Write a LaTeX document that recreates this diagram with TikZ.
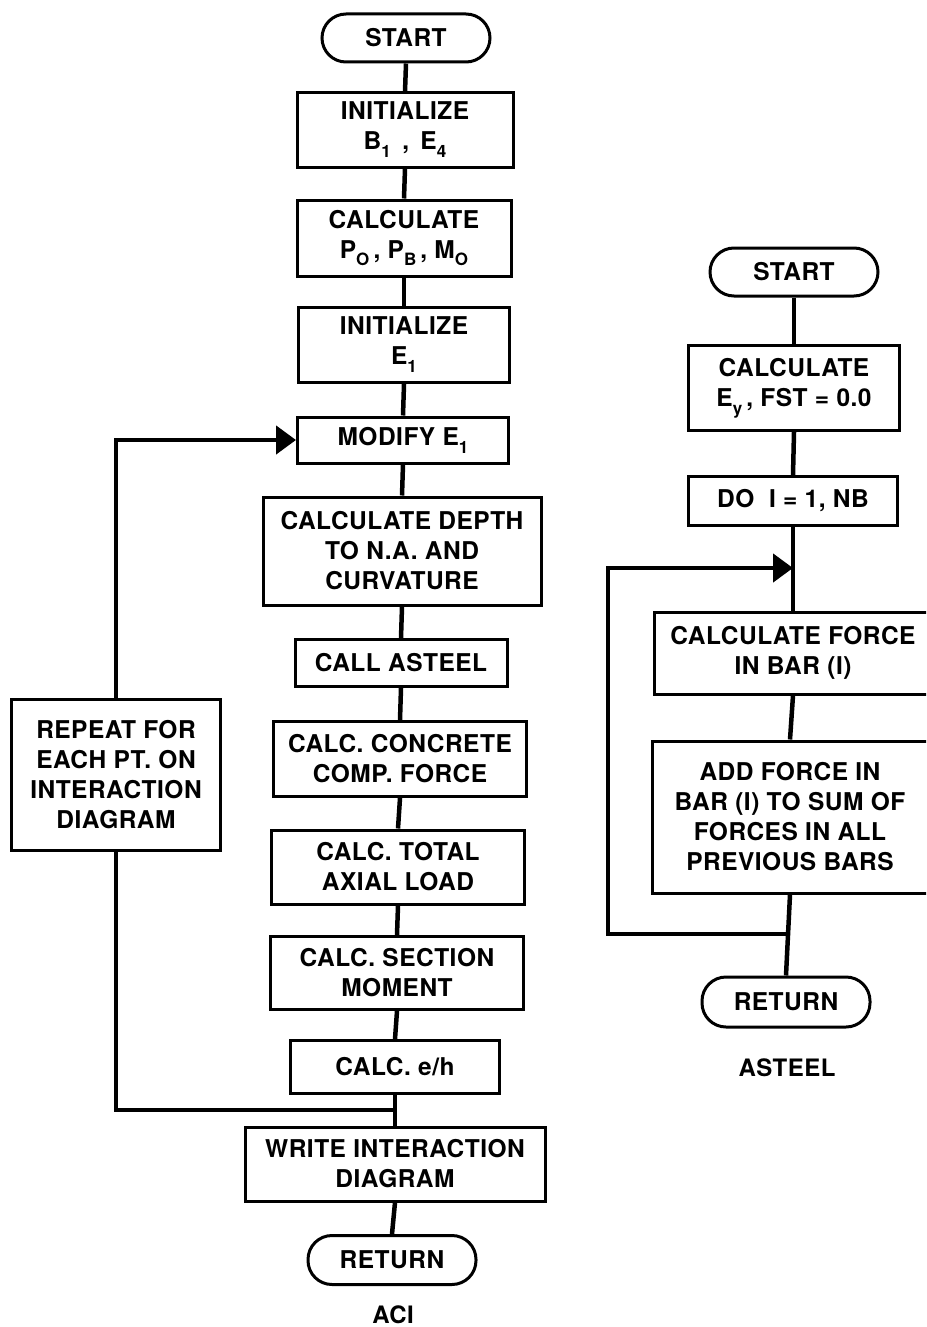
\documentclass[tikz,border=0pt]{standalone}
\usepackage{fontspec}
\setmainfont{TeX Gyre Heros}[LetterSpace=2]
\usetikzlibrary{arrows.meta,calc}
\newcommand\sbx[1]{\raisebox{-0.6ex}{\fontsize{17}{17}\selectfont #1}}
\tikzset{
  every node/.style={font=\fontsize{24.5}{30}\selectfont\bfseries},
  box/.style={draw, line width=3pt, rectangle, align=center, inner sep=0pt},
  term/.style={draw, line width=3pt, rectangle, rounded corners=24pt, align=center, minimum width=168pt, minimum height=48pt, inner sep=0pt},
  link/.style={line width=4.5pt},
  looparrow/.style={line width=4.5pt, -{Triangle[length=20pt,width=28pt]}},
  caption/.style={font=\fontsize{24}{28}\selectfont\bfseries}
}
\begin{document}
\begin{tikzpicture}[x=1pt,y=-1pt]
\useasboundingbox (0,0) rectangle (926,1327);
\clip (0,0) rectangle (926,1327);
% left flowchart (ACI)
\node[term] (s1) at (406,38) {START};
\node[box, minimum width=216pt, minimum height=74pt] (b1) at (405,130) {INITIALIZE\\B\sbx{1} \,,\, E\sbx{4}};
\node[box, minimum width=214pt, minimum height=76pt] (b2) at (404,238) {CALCULATE\\P\sbx{O}\,, P\sbx{B}\,, M\sbx{O}};
\node[box, minimum width=211pt, minimum height=75pt] (b3) at (404,345) {INITIALIZE\\E\sbx{1}};
\node[box, minimum width=211pt, minimum height=46pt] (b4) at (403,440) {MODIFY E\sbx{1}};
\node[box, minimum width=278pt, minimum height=108pt] (b5) at (402,551) {CALCULATE DEPTH\\TO N.A. AND\\CURVATURE};
\node[box, minimum width=212pt, minimum height=47pt] (b6) at (401,663) {CALL ASTEEL};
\node[box, minimum width=253pt, minimum height=75pt] (b7) at (400,759) {CALC. CONCRETE\\COMP. FORCE};
\node[box, minimum width=253pt, minimum height=74pt] (b8) at (398,867) {CALC. TOTAL\\AXIAL LOAD};
\node[box, minimum width=253pt, minimum height=73pt] (b9) at (397,973) {CALC. SECTION\\MOMENT};
\node[box, minimum width=209pt, minimum height=53pt] (b10) at (395,1067) {CALC. e/h};
\node[box, minimum width=300pt, minimum height=74pt] (b11) at (395,1164) {WRITE INTERACTION\\DIAGRAM};
\node[term, minimum height=49pt] (r1) at (392,1260) {RETURN};
\node[caption] (aci) at (393,1315) {ACI};
\node[box, minimum width=209pt, minimum height=151pt] (rep) at (116,775) {REPEAT FOR\\EACH PT. ON\\INTERACTION\\DIAGRAM};
\draw[link] (s1.south) -- (b1.north);
\draw[link] (b1.south) -- (b2.north);
\draw[link] (b2.south) -- (b3.north);
\draw[link] (b3.south) -- (b4.north);
\draw[link] (b4.south) -- (b5.north);
\draw[link] (b5.south) -- (b6.north);
\draw[link] (b6.south) -- (b7.north);
\draw[link] (b7.south) -- (b8.north);
\draw[link] (b8.south) -- (b9.north);
\draw[link] (b9.south) -- (b10.north);
\draw[link] (b10.south) -- (b11.north);
\draw[link] (b11.south) -- (r1.north);
\coordinate (h1) at (0,1110);
\coordinate (j1) at (b10.south |- h1);
\draw[looparrow] (rep.north) |- (b4.west);
\draw[link] (rep.south) |- (j1);
% right flowchart (ASTEEL)
\node[term] (s2) at (794,272) {START};
\node[box, minimum width=211pt, minimum height=85pt] (c1) at (794,388) {CALCULATE\\E\sbx{y}\,, FST = 0.0};
\node[box, minimum width=209pt, minimum height=49pt] (c2) at (793,501) {DO\ \ I = 1, NB};
\node[box, minimum width=278pt, minimum height=82pt] (c3) at (793,653) {CALCULATE FORCE\\IN BAR (I)};
\node[box, minimum width=276pt, minimum height=152pt] (c4) at (790,817) {ADD FORCE IN\\BAR (I) TO SUM OF\\FORCES IN ALL\\PREVIOUS BARS};
\node[term, minimum height=50pt] (r2) at (786,1002) {RETURN};
\node[caption] (ast) at (787,1068) {ASTEEL};
\draw[link] (s2.south) -- (c1.north);
\draw[link] (c1.south) -- (c2.north);
\draw[link] (c2.south) -- (c3.north);
\draw[link] (c3.south) -- (c4.north);
\draw[link] (c4.south) -- (r2.north);
\coordinate (h2) at (0,568);
\coordinate (j3) at (c2.south |- h2);
\coordinate (h3) at (0,934);
\coordinate (j2) at (c4.south |- h3);
\coordinate (lx) at (608,750);
\draw[looparrow] (j2) -| (lx) |- (j3);
\end{tikzpicture}
\end{document}
